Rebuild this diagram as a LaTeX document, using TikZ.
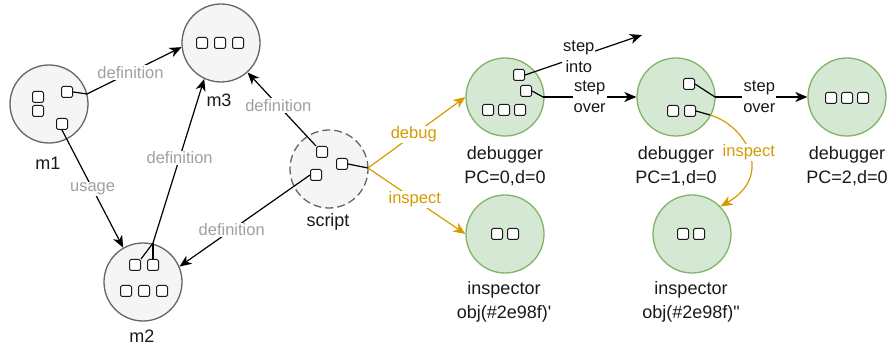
\documentclass[tikz,border=0pt]{standalone}
\usepackage{fontspec}
\setmainfont{Liberation Sans}
\usetikzlibrary{arrows.meta}
\definecolor{cgfill}{HTML}{F5F5F5}
\definecolor{cgline}{HTML}{666666}
\definecolor{grfill}{HTML}{D5E8D4}
\definecolor{grline}{HTML}{82B366}
\definecolor{orline}{HTML}{D79B00}
\definecolor{lbgray}{HTML}{A0A0A0}
\begin{document}
\begin{tikzpicture}[x=1pt,y=-1pt,
  gcirc/.style={circle,draw=cgline,fill=cgfill,line width=1.3pt,minimum size=78pt,inner sep=0pt},
  dcirc/.style={gcirc,dash pattern=on 8pt off 4pt},
  ecirc/.style={circle,draw=grline,fill=grfill,line width=1.3pt,minimum size=78pt,inner sep=0pt},
  sq/.style={draw=black!90,fill=white,rounded corners=1.5pt,minimum size=11pt,inner sep=0pt,line width=1pt},
  nlab/.style={align=center,font=\fontsize{18}{24}\selectfont,text=black!90},
  elab/.style={fill=white,inner sep=1pt,align=center,font=\fontsize{16.5}{21}\selectfont},
  glab/.style={elab,text=lbgray},
  blab/.style={elab,text=black!90},
  olab/.style={elab,text=orline},
  arr/.style={line width=1.2pt,-{Stealth[length=12pt,width=10pt,inset=3.5pt]}},
  oarr/.style={arr,draw=orline},
  lnk/.style={line width=1.2pt}]
\useasboundingbox (0,0) rectangle (889,347);

% circles
\node[gcirc] (m1) at (49,104) {};
\node[gcirc] (m3) at (221,43) {};
\node[gcirc] (m2) at (143,282) {};
\node[dcirc] (sc) at (329,169) {};
\node[ecirc] (d0) at (505,97) {};
\node[ecirc] (i0) at (505,234) {};
\node[ecirc] (d1) at (676,97) {};
\node[ecirc] (d2) at (847,97) {};
\node[ecirc] (i1) at (692,234) {};

% circle labels
\node[nlab] (m1l) at (48,163) {m1};
\node[nlab] (m3l) at (219,100) {m3};
\node[nlab] (m2l) at (142,336) {m2};
\node[nlab] (scl) at (328,222) {script};
\node[nlab] (d0l) at (505,166) {debugger\\PC=0,d=0};
\node[nlab] (i0l) at (504,302) {inspector\\obj(\#2e98f)\textquotesingle};
\node[nlab] (d1l) at (676,166) {debugger\\PC=1,d=0};
\node[nlab] (d2l) at (847,166) {debugger\\PC=2,d=0};
\node[nlab] (i1l) at (691,302) {inspector\\obj(\#2e98f)\textquotedbl};

% squares
\node[sq] (m1a) at (38,97) {};
\node[sq] (m1b) at (38,111) {};
\node[sq] (m1c) at (67,92) {};
\node[sq] (m1d) at (62,124) {};
\node[sq] (m3a) at (202,43) {};
\node[sq] (m3b) at (220,43) {};
\node[sq] (m3c) at (238,43) {};
\node[sq] (m2a) at (135,265) {};
\node[sq] (m2b) at (153,265) {};
\node[sq] (m2c) at (126,291) {};
\node[sq] (m2d) at (144,291) {};
\node[sq] (m2e) at (162,291) {};
\node[sq] (sa) at (322,152) {};
\node[sq] (sb) at (342,164) {};
\node[sq] (scc) at (316,175) {};
\node[sq] (d0a) at (519,75) {};
\node[sq] (d0b) at (526,91) {};
\node[sq] (d0c) at (488,110) {};
\node[sq] (d0d) at (504,110) {};
\node[sq] (d0e) at (520,110) {};
\node[sq] (i0a) at (497,234) {};
\node[sq] (i0b) at (513,234) {};
\node[sq] (d1a) at (689,84) {};
\node[sq] (d1b) at (673,111) {};
\node[sq] (d1c) at (690,111) {};
\node[sq] (d2a) at (831,98) {};
\node[sq] (d2b) at (847,98) {};
\node[sq] (d2c) at (863,98) {};
\node[sq] (i1a) at (683,234) {};
\node[sq] (i1b) at (699,234) {};

% junction coordinates
\coordinate (m1x) at (87,94);
\coordinate (m2j) at (153,243);
\coordinate (sj) at (368,168);
\coordinate (si) at (642,35);
\coordinate (d0j) at (543,97);
\coordinate (d1j) at (715,97);
\coordinate (d1k) at (710,115);

% m1 -> m3
\draw[lnk] (m1c.east) -- (m1x);
\draw[arr] (m1x) -- (m3.186) node[glab,pos=0.46] {definition};
% m1 -> m2
\draw[arr] (m1d.south) -- (m2.120) node[glab,pos=0.5] {usage};
% m2 -> m3
\draw[lnk] (m2a.north east) -- (m2j);
\draw[lnk] (m2b.north) -- (m2j);
\draw[arr] (m2j) -- (m3.245) node[glab,pos=0.52] {definition};
% script -> m3
\draw[arr] (sa.north west) -- (m3.312) node[glab,pos=0.55] {definition};
% script -> m2
\draw[arr] (scc.west) -- (m2.23) node[glab,pos=0.6] {definition};
% script -> debugger / inspector
\draw[lnk] (sb.east) -- (sj);
\draw[oarr] (sj) -- (d0.west) node[olab,pos=0.47] {debug};
\draw[oarr] (sj) -- (i0.west) node[olab,pos=0.48] {inspect};
% step into
\draw[arr] (d0a.east) -- (si) node[blab,pos=0.46] {step\\into};
% step over
\draw[lnk] (d0b.east) -- (d0j);
\draw[arr] (d0j) -- (d1.west) node[blab,pos=0.5] {step\\over};
\draw[lnk] (d1a.east) -- (d1j);
\draw[arr] (d1j) -- (d2.west) node[blab,pos=0.48] {step\\over};
% inspect from debugger 1
\draw[lnk] (d1c.east) -- (d1k);
\draw[oarr] (d1k) .. controls (745,125) and (775,175) .. (i1.44) node[olab,pos=0.5] {inspect};
\end{tikzpicture}
\end{document}
